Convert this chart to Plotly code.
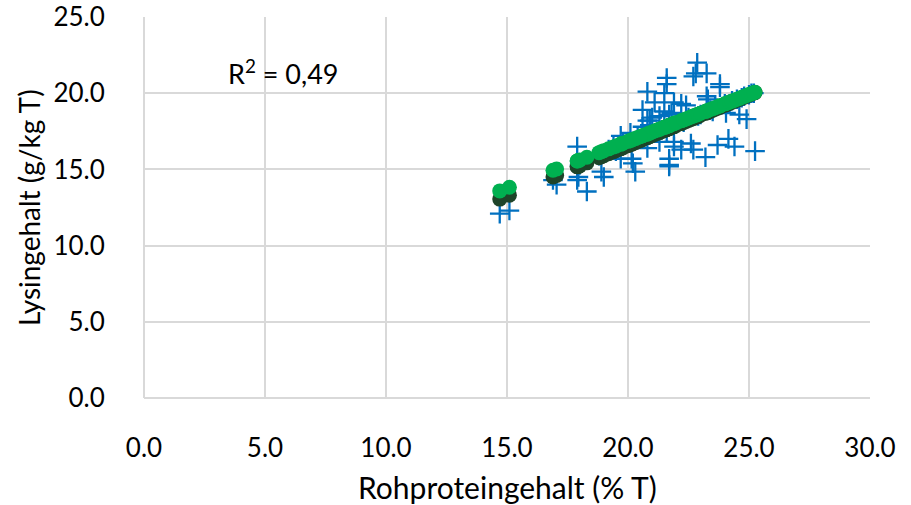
import plotly.graph_objects as go

# Rohproteingehalt (% T) of each sample
rp = [14.7, 15.1, 16.9, 17.05, 17.9, 17.95, 17.9, 18.3, 18.9, 19.0,
      19.7, 20.15, 20.2, 20.3, 20.8, 21.7, 21.7, 21.3, 21.9, 21.9,
      20.1, 19.7, 20.6, 20.9, 21.3, 21.7, 22.86, 22.7, 22.8, 23.25,
      21.6, 21.6, 23.8, 23.8, 20.8, 21.5, 23.25, 23.3, 21.1, 21.9,
      22.2, 22.4, 20.6, 24.05, 24.6, 24.9, 21.5, 21.8, 21.0, 20.8,
      20.9, 21.7, 21.6, 22.6, 22.7, 22.2, 23.2, 23.7, 24.15, 24.4,
      25.25, 21.7, 18.8, 19.2, 19.4, 19.5, 19.8, 20.0, 20.4, 20.5,
      21.2, 21.4, 22.0, 22.3, 22.5, 22.9, 23.0, 23.4, 23.5, 23.6,
      24.0, 24.2, 24.3, 24.5, 24.7, 24.8, 25.0, 25.1, 25.2, 18.0]

# measured Lysingehalt (g/kg T)
lys = [12.1, 12.3, 14.3, 14.0, 14.3, 14.5, 16.5, 13.55, 14.85, 14.5,
       15.7, 15.7, 15.4, 14.85, 16.4, 15.7, 15.2, 16.8, 16.8, 16.5,
       17.4, 17.2, 17.8, 18.2, 18.5, 18.6, 22.0, 21.1, 21.3, 21.3,
       21.0, 20.6, 20.6, 20.4, 20.1, 20.0, 19.8, 19.6, 19.4, 19.4,
       19.3, 19.2, 18.9, 18.7, 18.6, 18.3, 18.8, 18.7, 18.4, 18.2,
       17.9, 17.8, 17.5, 16.7, 16.3, 16.3, 15.8, 16.6, 17.0, 16.5,
       16.2, 15.3, 15.9, 16.3, 16.5, 16.2, 16.7, 16.8, 17.1, 17.0,
       17.4, 17.6, 18.0, 18.1, 18.4, 18.5, 18.6, 18.9, 18.8, 19.1,
       19.3, 19.3, 19.5, 19.6, 19.7, 19.8, 19.9, 20.0, 20.0, 15.3]

# estimated Lysingehalt, model 1 (dark circles)
est_dark = [13.05, 13.31, 14.50, 14.60, 15.17, 15.20, 15.17, 15.43, 15.83, 15.90,
            16.36, 16.66, 16.69, 16.76, 17.09, 17.69, 17.69, 17.42, 17.82, 17.82,
            16.63, 16.36, 16.96, 17.16, 17.42, 17.69, 18.46, 18.35, 18.42, 18.71,
            17.62, 17.62, 19.08, 19.08, 17.09, 17.55, 18.71, 18.75, 17.29, 17.82,
            18.02, 18.15, 16.96, 19.25, 19.61, 19.81, 17.55, 17.75, 17.22, 17.09,
            17.16, 17.69, 17.62, 18.28, 18.35, 18.02, 18.68, 19.01, 19.31, 19.48,
            20.04, 17.69, 15.76, 16.03, 16.16, 16.23, 16.43, 16.56, 16.83, 16.89,
            17.36, 17.49, 17.89, 18.08, 18.22, 18.48, 18.55, 18.81, 18.88, 18.95,
            19.21, 19.35, 19.41, 19.54, 19.68, 19.74, 19.88, 19.94, 20.01, 15.23]

# estimated Lysingehalt, model 2 (green circles)
est_green = [13.59, 13.83, 14.94, 15.03, 15.55, 15.58, 15.55, 15.80, 16.16, 16.23,
             16.66, 16.93, 16.96, 17.02, 17.33, 17.88, 17.88, 17.64, 18.01, 18.01,
             16.90, 16.66, 17.21, 17.39, 17.64, 17.88, 18.60, 18.50, 18.56, 18.84,
             17.82, 17.82, 19.17, 19.17, 17.33, 17.76, 18.84, 18.87, 17.52, 18.01,
             18.19, 18.31, 17.21, 19.33, 19.66, 19.85, 17.76, 17.95, 17.45, 17.33,
             17.39, 17.88, 17.82, 18.44, 18.50, 18.19, 18.80, 19.11, 19.39, 19.54,
             20.06, 17.88, 16.10, 16.35, 16.47, 16.53, 16.72, 16.84, 17.09, 17.15,
             17.58, 17.70, 18.07, 18.25, 18.38, 18.62, 18.68, 18.93, 18.99, 19.05,
             19.30, 19.42, 19.48, 19.60, 19.73, 19.79, 19.91, 19.97, 20.03, 15.61]

x_ticks = [0, 5, 10, 15, 20, 25, 30]
y_ticks = [0, 5, 10, 15, 20, 25]
r2_text = "R<sup>2</sup> = 0,49"
x_title = "Rohproteingehalt (% T)"
y_title = "Lysingehalt (g/kg T)"

FONT = "Lato"

fig = go.Figure()
fig.add_trace(go.Scatter(
    x=rp, y=lys, mode="markers",
    marker=dict(symbol="cross-thin", size=14, line=dict(color="#0070C0", width=2.3)),
    showlegend=False, hoverinfo="x+y"))
fig.add_trace(go.Scatter(
    x=rp, y=est_dark, mode="markers",
    marker=dict(symbol="circle", size=15, color="#1E4429"),
    showlegend=False))
fig.add_trace(go.Scatter(
    x=rp, y=est_green, mode="markers",
    marker=dict(symbol="circle", size=15, color="#00B050"),
    showlegend=False))

fig.add_annotation(x=5.75, y=21.4, text=r2_text, showarrow=False,
                   font=dict(family=FONT, size=27, color="#000000"))
fig.add_annotation(xref="paper", yref="paper", x=-0.159, y=0.5, textangle=-90,
                   xanchor="center", yanchor="middle", text=y_title, showarrow=False,
                   font=dict(family=FONT, size=28, color="#000000"))
fig.add_annotation(xref="paper", yref="paper", x=0.5, y=-0.2336,
                   xanchor="center", yanchor="middle", text=x_title, showarrow=False,
                   font=dict(family=FONT, size=30, color="#000000"))

axis_common = dict(
    showgrid=True, gridcolor="#D9D9D9", gridwidth=1.5,
    zeroline=True, zerolinecolor="#D9D9D9", zerolinewidth=1.5,
    showline=False, ticks="outside", tickcolor="rgba(0,0,0,0)",
    tickfont=dict(family=FONT, size=26, color="#000000"),
    tickformat=".1f", automargin=False,
)

fig.update_layout(
    width=911, height=505,
    margin=dict(l=144, r=41, t=17, b=107),
    paper_bgcolor="white", plot_bgcolor="white",
    xaxis=dict(range=[0, 30], tickvals=x_ticks, ticklen=27, **axis_common),
    yaxis=dict(range=[0, 25], tickvals=y_ticks, ticklen=33, **axis_common),
)

fig.write_html("out.html")
